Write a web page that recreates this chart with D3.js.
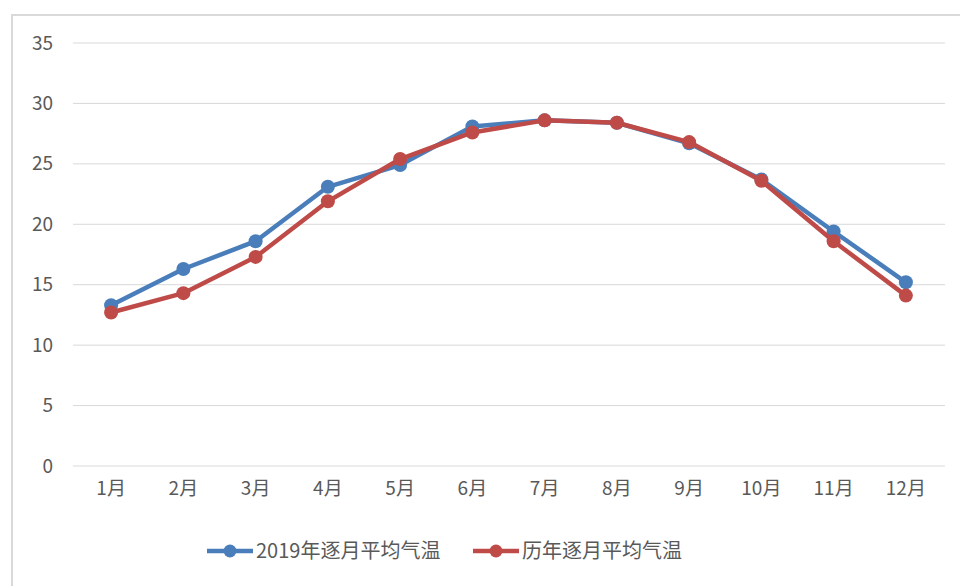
<!DOCTYPE html>
<html>
<head>
<meta charset="utf-8">
<script src="https://cdn.jsdelivr.net/npm/d3@7"></script>
<style>
  body { margin: 0; background: #fff; }
  text { font-family: "Noto Sans CJK SC", "Noto Sans", sans-serif; fill: #595959; }
</style>
</head>
<body>
<svg id="chart" width="960" height="586"></svg>
<script>
var months = ["1月", "2月", "3月", "4月", "5月", "6月", "7月", "8月", "9月", "10月", "11月", "12月"];
var temp2019 = [13.3, 16.3, 18.6, 23.1, 24.9, 28.1, 28.6, 28.4, 26.7, 23.7, 19.4, 15.2];
var tempHist = [12.7, 14.3, 17.3, 21.9, 25.4, 27.6, 28.6, 28.4, 26.8, 23.6, 18.6, 14.1];
var seriesNames = ["2019年逐月平均气温", "历年逐月平均气温"];
var yTicks = [0, 5, 10, 15, 20, 25, 30, 35];

var colors = ["#4a7ebb", "#be4b48"];

var svg = d3.select("#chart"),
    margin = {top: 43, left: 75, right: 18},
    width = 942 - margin.left,
    height = 466 - margin.top;

// frame (only top and left edges are visible in the reference)
svg.append("path")
    .attr("d", "M12,586 V15 H960")
    .attr("fill", "none")
    .attr("stroke", "#d9d9d9")
    .attr("stroke-width", 2);

var g = svg.append("g").attr("transform", "translate(" + margin.left + "," + margin.top + ")");

var x = d3.scaleBand().domain(months).range([0, width]);
var y = d3.scaleLinear().domain([0, 35]).range([height, 0]);

// grid lines
g.append("g")
    .selectAll("line")
    .data(yTicks)
    .enter().append("line")
    .attr("x1", -2)
    .attr("x2", width + 3)
    .attr("y1", function (d) { return y(d); })
    .attr("y2", function (d) { return y(d); })
    .attr("stroke", "#d9d9d9")
    .attr("stroke-width", 1);

// y axis
var yAxis = g.append("g")
    .call(d3.axisLeft(y).tickValues(yTicks).tickSize(0).tickPadding(22));
yAxis.select(".domain").remove();
yAxis.selectAll("text").style("font-size", "19px").attr("fill", "#595959");

// x axis
var xAxis = g.append("g")
    .attr("transform", "translate(0," + height + ")")
    .call(d3.axisBottom(x).tickSize(0).tickPadding(16));
xAxis.select(".domain").remove();
xAxis.selectAll("text").style("font-size", "19px").attr("fill", "#595959");

var line = d3.line()
    .x(function (d, i) { return x(months[i]) + x.bandwidth() / 2; })
    .y(function (d) { return y(d); });

[temp2019, tempHist].forEach(function (data, k) {
    g.append("path")
        .datum(data)
        .attr("fill", "none")
        .attr("stroke", colors[k])
        .attr("stroke-width", 4.5)
        .attr("stroke-linejoin", "round")
        .attr("d", line);

    g.append("g")
        .selectAll("circle")
        .data(data)
        .enter().append("circle")
        .attr("cx", function (d, i) { return x(months[i]) + x.bandwidth() / 2; })
        .attr("cy", function (d) { return y(d); })
        .attr("r", 7)
        .attr("fill", colors[k]);
});

// legend
var legendX = [207, 473];
var legend = svg.append("g")
    .selectAll("g")
    .data(seriesNames)
    .enter().append("g")
    .attr("transform", function (d, i) { return "translate(" + legendX[i] + ",551)"; });

legend.append("line")
    .attr("x1", 0).attr("x2", 46)
    .attr("stroke", function (d, i) { return colors[i]; })
    .attr("stroke-width", 4.5);
legend.append("circle")
    .attr("cx", 23).attr("r", 6.5)
    .attr("fill", function (d, i) { return colors[i]; });
legend.append("text")
    .attr("x", 49)
    .attr("dy", "0.35em")
    .style("font-size", "20px")
    .text(function (d) { return d; });
</script>
</body>
</html>
